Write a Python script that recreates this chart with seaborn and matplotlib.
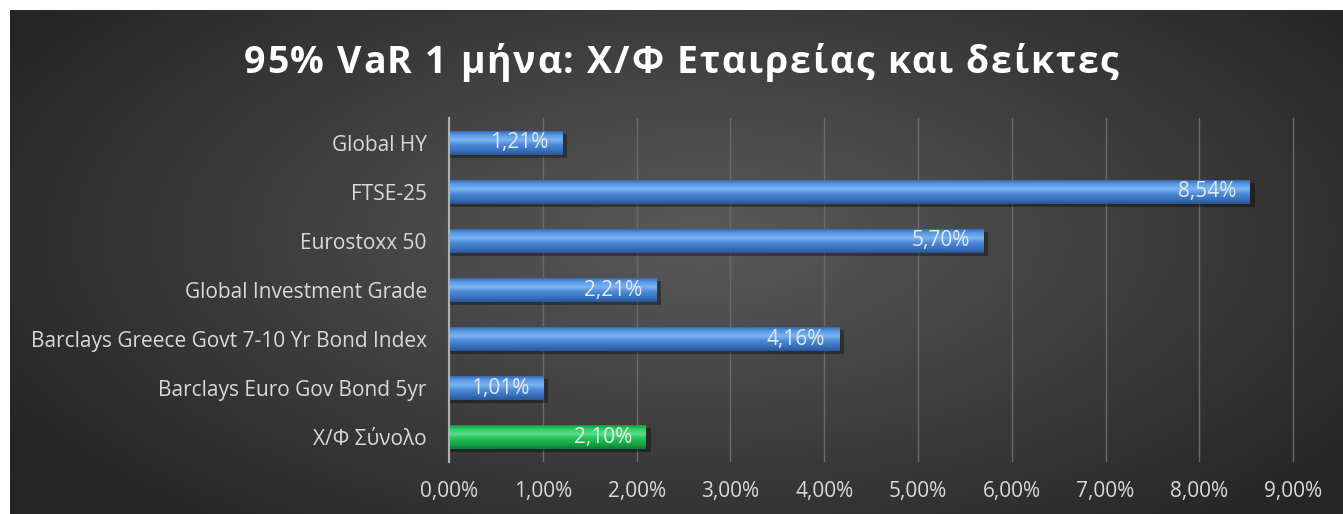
import numpy as np
import pandas as pd
import seaborn as sns
import matplotlib.pyplot as plt
from matplotlib.ticker import FuncFormatter

# Δεδομένα
categories = ["Global HY", "FTSE-25", "Eurostoxx 50", "Global Investment Grade",
              "Barclays Greece Govt 7-10 Yr Bond Index", "Barclays Euro Gov Bond 5yr",
              "Χ/Φ Σύνολο"]
var_values = [1.21, 8.54, 5.70, 2.21, 4.16, 1.01, 2.10]
groups = ["index", "index", "index", "index", "index", "index", "portfolio"]
ticks = [0, 1, 2, 3, 4, 5, 6, 7, 8, 9]
title = "95% VaR 1 μήνα: Χ/Φ Εταιρείας και δείκτες"

df = pd.DataFrame({"cat": categories, "var": var_values, "grp": groups})

sns.set_theme(style="dark")
plt.rcParams["font.family"] = ["Open Sans", "DejaVu Sans"]

W, H = 1343, 514
fig = plt.figure(figsize=(W / 100, H / 100), dpi=100, facecolor="white")

# φόντο με ακτινική διαβάθμιση
bg = fig.add_axes([10 / W, 0, 1 - 10 / W, 1 - 10 / H])
yy, xx = np.mgrid[0:1:300j, 0:1:800j]
r = np.sqrt(((xx - 0.52) / 0.6) ** 2 + ((yy - 0.45) / 0.75) ** 2)
bg.imshow(np.clip(r, 0, 1), cmap=sns.blend_palette(["#5a5a5a", "#262626"], as_cmap=True),
          aspect="auto", extent=[0, 1, 0, 1], vmin=0, vmax=1)
bg.set_axis_off()

ax = fig.add_axes([449 / W, 1 - 462 / H, (1295 - 449) / W, (462 - 118) / H])
ax.patch.set_alpha(0)

palette = {"index": "#4a88d6", "portfolio": "#1fbf55"}
sns.barplot(data=df, y="cat", x="var", hue="grp", palette=palette, dodge=False,
            width=0.5, legend=False, ax=ax, zorder=3, edgecolor="none")

grad = {"index": ["#2d5fa6", "#5a9be6", "#7ab4f2", "#4a88d6", "#3a73bf", "#2a5598"],
        "portfolio": ["#0e8a3a", "#2ccf63", "#5ae088", "#1fbf55", "#17a548", "#0d7d35"]}
for patch, val, grp in zip(ax.patches, var_values, groups):
    x0, y0 = patch.get_x(), patch.get_y()
    w, h = patch.get_width(), patch.get_height()
    # σκιά
    ax.add_patch(plt.Rectangle((x0, y0 + h * 0.12), w + 0.05, h, color="black",
                               alpha=0.35, zorder=2, lw=0))
    cm = sns.blend_palette(grad[grp], as_cmap=True)
    im = ax.imshow(np.linspace(0, 1, 100).reshape(-1, 1), cmap=cm, aspect="auto",
                   extent=[x0, x0 + w, y0 + h, y0], zorder=4)
    im.set_clip_path(patch)
    ax.text(val - 0.15, y0 + h / 2, f"{val:.2f}%".replace(".", ","), ha="right",
            va="center", color="#e8e8e8", fontsize=15, zorder=5)

ax.set_xlim(0, 9.02)
ax.set_ylim(6.51, -0.51)
ax.set_xticks(ticks)
ax.xaxis.set_major_formatter(FuncFormatter(lambda v, p: f"{v:.2f}%".replace(".", ",")))
ax.grid(axis="x", color="#6a6a6a", lw=1, zorder=0)
ax.grid(axis="y", visible=False)
for s in ["top", "right", "bottom"]:
    ax.spines[s].set_visible(False)
ax.spines["left"].set_color("#b0b0b0")
ax.spines["left"].set_linewidth(1.5)
ax.spines["left"].set_zorder(6)
ax.tick_params(axis="x", colors="#d9d9d9", labelsize=15, length=0, pad=14)
ax.tick_params(axis="y", colors="#d9d9d9", labelsize=15, length=0, pad=16)
ax.set_xlabel("")
ax.set_ylabel("")

# τίτλος με αραιωμένα γράμματα
renderer = fig.canvas.get_renderer()
tkw = dict(color="white", fontsize=27, fontweight="bold", va="center", ha="left")


def text_w(s):
    t = fig.text(0, 0, s + "|", **tkw)
    w1 = t.get_window_extent(renderer).width
    t.remove()
    t = fig.text(0, 0, "|", **tkw)
    w2 = t.get_window_extent(renderer).width
    t.remove()
    return w1 - w2


spacing = 1.8
total = text_w(title) + spacing * (len(title) - 1)
start = 681 - total / 2
for i, ch in enumerate(title):
    if ch == " ":
        continue
    xpx = start + text_w(title[:i]) + spacing * i
    fig.text(xpx / W, 1 - 63 / H, ch, **tkw)

fig.savefig("out.png", dpi=100, facecolor="white")
